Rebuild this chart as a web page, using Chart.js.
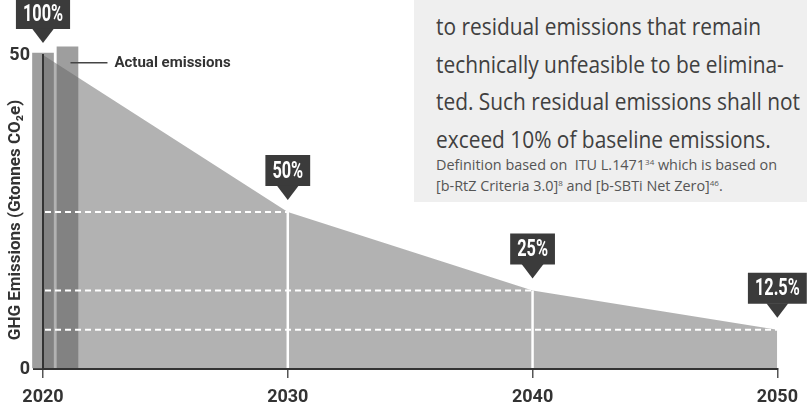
<!DOCTYPE html>
<html>
<head>
<meta charset="utf-8">
<script src="https://cdn.jsdelivr.net/npm/chart.js@4.4.0/dist/chart.umd.js"></script>
<style>
    html, body { margin: 0; padding: 0; background: #fff; }
    #wrap { position: relative; width: 807px; height: 406px; overflow: hidden; }
    #chart { position: absolute; left: 0; top: 0; }
    #note {
        position: absolute; left: 414px; top: 0; width: 393px; height: 202px;
        background: #efefef; font-family: "Open Sans", sans-serif; color: #404040;
    }
    #note .big {
        position: absolute; left: 22px; top: 7px; font-size: 24px; line-height: 37.7px;
        white-space: nowrap; transform: scaleX(0.87); transform-origin: 0 0;
    }
    #note .small { position: absolute; left: 22px; top: 155px; font-size: 14.4px; line-height: 20.5px; color: #555; white-space: nowrap; }
    #note sup { font-size: 8px; vertical-align: 5px; line-height: 0; }
</style>
</head>
<body>
<div id="wrap">
    <canvas id="chart" width="807" height="406"></canvas>
    <div id="note">
        <div class="big">to residual emissions that remain<br>technically unfeasible to be elimina-<br>ted. Such residual emissions shall not<br>exceed 10% of baseline emissions.</div>
        <div class="small">Definition based on&nbsp; ITU L.1471<sup>34</sup> which is based on<br>[b-RtZ Criteria 3.0]<sup>8</sup> and [b-SBTi Net Zero]<sup>46</sup>.</div>
    </div>
</div>
<script>
// Trajectória de redução (pontos de referência)
const years = [2020, 2030, 2040, 2050];
const pathway = [50, 25, 12.5, 6.25];
const pathwayLabels = ['100%', '50%', '25%', '12.5%'];

// Emissões reais
const actualYears = [2020, 2021];
const actualValues = [50.3, 51.3];
const actualLabel = 'Actual emissions';

const yTitle = 'GHG Emissions (Gtonnes CO₂e)';

// Plugin: linhas brancas, caixas de percentagem, rótulo das barras e título do eixo Y
const overlayPlugin = {
    id: 'overlay',
    afterDatasetsDraw(chart) {
        const ctx = chart.ctx;
        const area = chart.chartArea;
        const pts = chart.getDatasetMeta(0).data;
        const bars = chart.getDatasetMeta(1).data;

        ctx.save();
        ctx.strokeStyle = '#fff';

        // linhas tracejadas horizontais
        ctx.lineWidth = 2;
        ctx.setLineDash([6, 4]);
        for (let i = 1; i < pts.length; i++) {
            ctx.beginPath();
            ctx.moveTo(area.left + 2, pts[i].y);
            ctx.lineTo(pts[i].x, pts[i].y);
            ctx.stroke();
        }

        // linhas verticais
        ctx.setLineDash([]);
        ctx.lineWidth = 2.5;
        for (let i = 1; i < pts.length - 1; i++) {
            ctx.beginPath();
            ctx.moveTo(pts[i].x, pts[i].y);
            ctx.lineTo(pts[i].x, area.bottom);
            ctx.stroke();
        }

        // caixas com percentagem
        ctx.font = 'bold 24px Roboto';
        ctx.textAlign = 'center';
        ctx.textBaseline = 'middle';
        const squeeze = 0.68;
        pts.forEach((p, i) => {
            const txt = pathwayLabels[i];
            const w = ctx.measureText(txt).width * squeeze + 14;
            const h = 31, tri = 14, gap = 12;
            const tip = p.y - gap;
            const bottom = tip - tri;
            ctx.fillStyle = '#3b3b3b';
            ctx.beginPath();
            ctx.rect(p.x - w / 2, bottom - h, w, h);
            ctx.fill();
            ctx.beginPath();
            ctx.moveTo(p.x - 11, bottom - 0.5);
            ctx.lineTo(p.x + 11, bottom - 0.5);
            ctx.lineTo(p.x, tip);
            ctx.closePath();
            ctx.fill();
            ctx.save();
            ctx.translate(p.x, bottom - h / 2 + 1);
            ctx.scale(squeeze, 1);
            ctx.fillStyle = '#fff';
            ctx.fillText(txt, 0, 0);
            ctx.restore();
        });

        // rótulo "Actual emissions"
        const b = bars[bars.length - 1];
        const ly = b.y + 16;
        ctx.strokeStyle = '#444';
        ctx.lineWidth = 1.5;
        ctx.beginPath();
        ctx.moveTo(b.x + 3, ly);
        ctx.lineTo(b.x + 40, ly);
        ctx.stroke();
        ctx.fillStyle = '#333';
        ctx.font = 'bold 15px Roboto';
        ctx.textAlign = 'left';
        ctx.fillText(actualLabel, b.x + 47, ly);

        // título do eixo Y
        ctx.save();
        ctx.translate(16, (area.top + area.bottom) / 2 + 8);
        ctx.rotate(-Math.PI / 2);
        ctx.textAlign = 'center';
        ctx.textBaseline = 'middle';
        ctx.font = 'bold 17px Roboto';
        ctx.fillText(yTitle, 0, 0);
        ctx.restore();

        ctx.restore();
    }
};

new Chart(document.getElementById('chart'), {
    data: {
        datasets: [
            {
                type: 'line',
                label: 'Pathway',
                data: years.map((x, i) => ({ x: x, y: pathway[i] })),
                backgroundColor: 'rgba(101,101,101,0.5)',
                borderWidth: 0,
                pointRadius: 0,
                tension: 0,
                fill: 'origin',
                order: 1
            },
            {
                type: 'bar',
                label: actualLabel,
                data: actualYears.map((x, i) => ({ x: x, y: actualValues[i] })),
                backgroundColor: '#9e9e9e',
                barThickness: 21,
                clip: false,
                order: 2
            }
        ]
    },
    options: {
        responsive: false,
        animation: false,
        layout: { padding: { top: 55, right: 28, left: 0, bottom: 0 } },
        plugins: { legend: { display: false }, tooltip: { enabled: false } },
        scales: {
            x: {
                type: 'linear',
                min: 2020,
                max: 2050,
                offset: false,
                afterFit(scale) { scale.height = 37; },
                ticks: {
                    stepSize: 10,
                    padding: 9,
                    color: '#333',
                    font: { family: 'Roboto', weight: 'bold', size: 18 },
                    callback: v => String(v)
                },
                grid: { offset: false, drawOnChartArea: false, tickLength: 9, tickColor: '#555', lineWidth: 1.5 },
                border: { color: '#333', width: 2, z: 1 }
            },
            y: {
                min: 0,
                max: 50,
                afterFit(scale) { scale.width = 43; },
                ticks: {
                    stepSize: 50,
                    padding: 3,
                    color: '#333',
                    font: { family: 'Roboto', weight: 'bold', size: 18 }
                },
                grid: { drawOnChartArea: false, tickLength: 10, tickColor: '#333', lineWidth: 2 },
                border: { color: '#333', width: 2, z: 1 }
            }
        }
    },
    plugins: [overlayPlugin]
});
</script>
</body>
</html>
